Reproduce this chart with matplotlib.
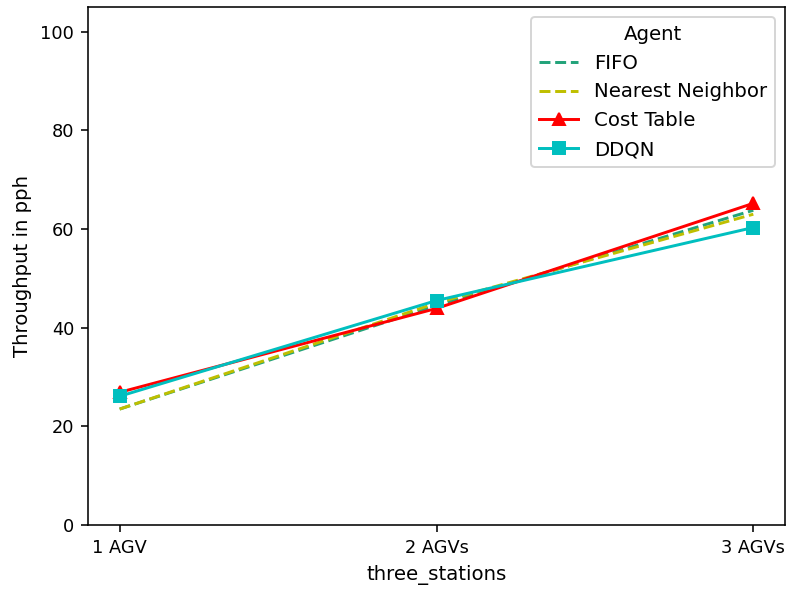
import numpy as np
import matplotlib
matplotlib.use('Agg')
import matplotlib.pyplot as plt

categories = ['1 AGV', '2 AGVs', '3 AGVs']
fifo = [23.5, 44.5, 63.8]
nearest = [23.5, 45.0, 63.0]
cost_table = [26.9, 43.9, 65.2]
ddqn = [26.1, 45.5, 60.3]

dpi = 142
fig = plt.figure(figsize=(789/dpi, 589/dpi), dpi=dpi)
ax = fig.add_axes([88/789, 1-525/589, (785-88)/789, (525-7)/589])

x = np.arange(len(categories))
ax.plot(x, fifo, '--', color='#22a37a', label='FIFO')
ax.plot(x, nearest, '--', color='y', label='Nearest Neighbor')
ax.plot(x, cost_table, '-^', color='r', label='Cost Table')
ax.plot(x, ddqn, '-s', color='c', label='DDQN')

ax.set_xticks(x)
ax.set_xticklabels(categories)
ax.tick_params(labelsize=9)
ax.set_ylim(0, 105)
ax.set_xlabel('three_stations')
ax.set_ylabel('Throughput in pph')
ax.legend(title='Agent', loc='upper right')

fig.savefig('out.png', dpi=dpi)
